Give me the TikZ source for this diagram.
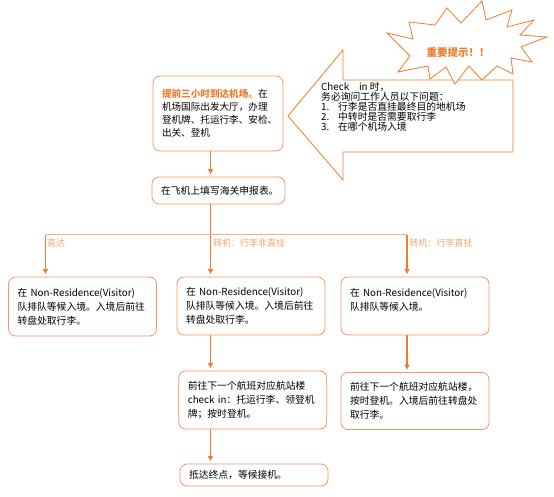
\documentclass[tikz,border=0pt]{standalone}
\usepackage{fontspec}
\setmainfont{Noto Sans CJK SC}
\usetikzlibrary{arrows.meta}
\definecolor{og}{HTML}{ED7D31}
\definecolor{oglt}{HTML}{F4A46A}
\begin{document}
\begin{tikzpicture}[x=1pt,y=-1pt,every node/.style={font=\fontsize{9.8}{14}\selectfont},
  box/.style={draw=og!80,line width=0.8pt,rounded corners=7pt,align=left,inner xsep=9pt,inner ysep=4pt},
  arr/.style={draw=og,line width=1.1pt,-{Triangle[length=5pt,width=5pt]},shorten >=2.5pt},
  tag/.style={text=oglt,font=\fontsize{9}{10}\selectfont,anchor=west,inner sep=1pt}]
\useasboundingbox (0,0) rectangle (554,497);
% callout and star
\draw[og,line width=0.8pt,fill=white] (288,116)--(343,50)--(343,80)--(513,80)--(513,152)--(343,152)--(343,180)--cycle;
\draw[og,line width=0.8pt,fill=white] (482,1)--(486,20)--(512,10)--(507,27)--(534,20)--(520,35)--(547,37)--(521,47)--(532,62)--(511,58)--(513,74)--(497,66)--(482,80)--(469,66)--(455,84)--(446,67)--(430,79)--(428,66)--(398,72)--(410,56)--(387,33)--(413,39)--(409,22)--(435,25)--(447,8)--(461,23)--cycle;
\node (warn) at (458,53) {\textcolor{og}{\bfseries\fontsize{10.5}{12}\selectfont 重要提示！！}};
\node[anchor=north west,inner sep=0pt,align=left,font=\fontsize{9.8}{10}\selectfont] (ask) at (321,82)
  {Check\quad in 时，\\务必询问工作人员以下问题：\\\makebox[17pt][l]{1.}行李是否直挂最终目的地机场\\\makebox[17pt][l]{2.}中转时是否需要取行李\\\makebox[17pt][l]{3.}在哪个机场入境};
% boxes
\node[box,text width=112pt,minimum height=75pt,font=\fontsize{9.6}{13}\selectfont] (start) at (218,113.5)
  {\textcolor{og}{\bfseries 提前三小时到达机场。}在\\机场国际出发大厅，办理\\登机牌、托运行李、安检、\\出关、登机};
\node[box,text width=115pt,minimum height=27pt] (customs) at (218.5,190.5) {在飞机上填写海关申报表。};
\node[box,text width=130pt,minimum height=59pt] (direct) at (82.5,306.5)
  {在 Non-Residence(Visitor)\\队排队等候入境。入境后前往\\转盘处取行李。};
\node[box,text width=130pt,minimum height=58pt] (nobag) at (251,306)
  {在 Non-Residence(Visitor)\\队排队等候入境。入境后前往\\转盘处取行李。};
\node[box,text width=130pt,minimum height=58pt] (thru) at (415,306)
  {在 Non-Residence(Visitor)\\队排队等候入境。\\\mbox{}};
\node[box,text width=130pt,minimum height=58pt] (nobagnext) at (252.8,400)
  {前往下一个航班对应航站楼\\check in：托运行李、领登机\\牌；按时登机。};
\node[box,text width=130pt,minimum height=57pt] (thrunext) at (415,401)
  {前往下一个航班对应航站楼，\\按时登机。入境后前往转盘处\\取行李。};
\node[box,text width=130pt,minimum height=22pt] (arrive) at (254,475) {抵达终点，等候接机。};
% connectors
\coordinate (trunk) at (210.5,0);
\coordinate (split) at (210.5,234.5);
\coordinate (splitL) at (45.5,234.5);
\coordinate (splitR) at (407,234.5);
\draw[arr] (start.south -| trunk) -- (customs.north -| trunk);
\draw[og,line width=1.1pt] (customs.south -| trunk) -- (split);
\draw[og!60,line width=0.9pt] (splitL) -- (splitR);
\draw[arr] (splitL) -- (direct.north -| splitL);
\draw[arr] (split) -- (nobag.north -| split);
\draw[arr] (splitR) -- (thru.north -| splitR);
\draw[arr] (nobag.south -| trunk) -- (nobagnext.north -| trunk);
\draw[arr] (nobagnext.south -| trunk) -- (arrive.north -| trunk);
\draw[arr] (thru.south -| splitR) -- (thrunext.north -| splitR);
\node[tag] (tagL) at (46,243) {直达};
\node[tag] (tagM) at (212,243) {转机：行李非直挂};
\node[tag] (tagR) at (408.5,243) {转机：行李直挂};
\end{tikzpicture}
\end{document}
